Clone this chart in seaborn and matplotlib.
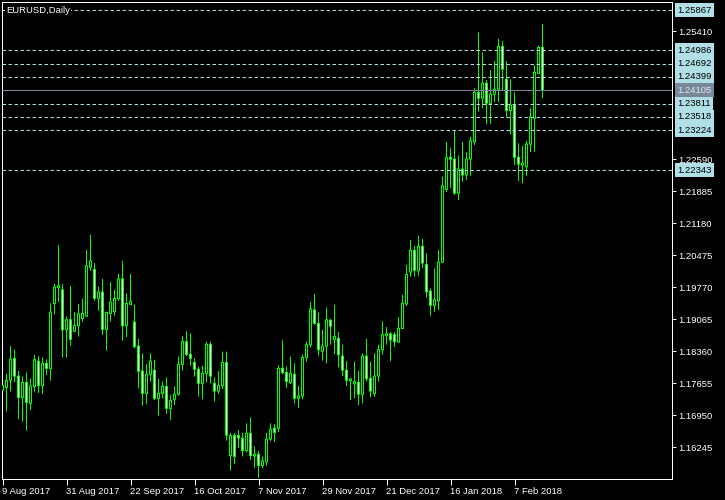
"""EURUSD daily candles in the MetaTrader look (black chart, lime candles)."""

import matplotlib
matplotlib.use("Agg")
import matplotlib.pyplot as plt
import matplotlib.transforms as mtransforms
import numpy as np
import seaborn as sns

# ── data (one candle per trading day, 9 Aug 2017 .. 16 Feb 2018) ──
opens = [
    1.1750, 1.1756, 1.1772, 1.1820, 1.1781, 1.1734, 1.1767, 1.1721, 1.1758, 1.1814,
    1.1760, 1.1809, 1.1798, 1.1941, 1.1976, 1.1971, 1.1883, 1.1905, 1.1880, 1.1892,
    1.1908, 1.1913, 1.2021, 1.2016, 1.1952, 1.1966, 1.1884, 1.1919, 1.1923, 1.1951,
    1.1995, 1.1892, 1.1939, 1.1900, 1.1847, 1.1792, 1.1743, 1.1785, 1.1794, 1.1732,
    1.1743, 1.1758, 1.1710, 1.1730, 1.1741, 1.1807, 1.1857, 1.1829, 1.1811, 1.1796,
    1.1765, 1.1787, 1.1851, 1.1765, 1.1748, 1.1760, 1.1811, 1.1606, 1.1650, 1.1650,
    1.1644, 1.1617, 1.1655, 1.1605, 1.1609, 1.1584, 1.1592, 1.1642, 1.1666, 1.1666,
    1.1798, 1.1789, 1.1767, 1.1785, 1.1732, 1.1737, 1.1822, 1.1850, 1.1927, 1.1897,
    1.1836, 1.1847, 1.1904, 1.1862, 1.1864, 1.1825, 1.1794, 1.1771, 1.1764, 1.1767,
    1.1741, 1.1825, 1.1776, 1.1743, 1.1781, 1.1839, 1.1870, 1.1874, 1.1872, 1.1856,
    1.1886, 1.1940, 1.2010, 1.2058, 1.2013, 1.2067, 1.2027, 1.1968, 1.1937, 1.1947,
    1.2032, 1.2192, 1.2263, 1.2259, 1.2184, 1.2237, 1.2224, 1.2259, 1.2297, 1.2406,
    1.2393, 1.2426, 1.2382, 1.2402, 1.2413, 1.2507, 1.2435, 1.2366, 1.2378, 1.2263,
    1.2246, 1.2242, 1.2292, 1.2349, 1.2448, 1.2505,
]
highs = [
    1.1768, 1.1786, 1.1847, 1.1839, 1.1792, 1.1780, 1.1789, 1.1775, 1.1828, 1.1825,
    1.1822, 1.1818, 1.1941, 1.1984, 1.2070, 1.1984, 1.1913, 1.1980, 1.1922, 1.1940,
    1.1951, 1.2059, 1.2092, 1.2030, 1.1978, 1.1995, 1.1923, 1.1988, 1.1971, 1.2006,
    1.2035, 1.1963, 1.2006, 1.1938, 1.1863, 1.1831, 1.1807, 1.1831, 1.1817, 1.1775,
    1.1769, 1.1778, 1.1739, 1.1758, 1.1824, 1.1869, 1.1880, 1.1875, 1.1820, 1.1802,
    1.1804, 1.1857, 1.1857, 1.1778, 1.1792, 1.1835, 1.1835, 1.1656, 1.1656, 1.1662,
    1.1656, 1.1677, 1.1690, 1.1626, 1.1616, 1.1604, 1.1656, 1.1677, 1.1675, 1.1805,
    1.1860, 1.1802, 1.1824, 1.1809, 1.1759, 1.1828, 1.1857, 1.1944, 1.1962, 1.1921,
    1.1883, 1.1932, 1.1907, 1.1938, 1.1878, 1.1850, 1.1814, 1.1776, 1.1813, 1.1792,
    1.1831, 1.1863, 1.1813, 1.1831, 1.1850, 1.1902, 1.1889, 1.1878, 1.1878, 1.1911,
    1.1960, 1.2026, 1.2081, 1.2068, 1.2090, 1.2083, 1.2052, 1.1974, 1.2018, 1.2059,
    1.2220, 1.2297, 1.2284, 1.2322, 1.2267, 1.2297, 1.2274, 1.2308, 1.2415, 1.2538,
    1.2494, 1.2433, 1.2455, 1.2475, 1.2524, 1.2519, 1.2475, 1.2435, 1.2406, 1.2294,
    1.2288, 1.2299, 1.2371, 1.2466, 1.2509, 1.2557,
]
lows = [
    1.1742, 1.1703, 1.1747, 1.1768, 1.1686, 1.1681, 1.1661, 1.1706, 1.1747, 1.1744,
    1.1742, 1.1783, 1.1771, 1.1917, 1.1945, 1.1822, 1.1822, 1.1848, 1.1878, 1.1868,
    1.1901, 1.1912, 1.2013, 1.1947, 1.1925, 1.1872, 1.1837, 1.1901, 1.1914, 1.1947,
    1.1859, 1.1867, 1.1938, 1.1842, 1.1754, 1.1716, 1.1720, 1.1769, 1.1728, 1.1694,
    1.1732, 1.1698, 1.1684, 1.1717, 1.1738, 1.1793, 1.1825, 1.1804, 1.1780, 1.1736,
    1.1730, 1.1767, 1.1765, 1.1725, 1.1742, 1.1752, 1.1639, 1.1573, 1.1587, 1.1623,
    1.1604, 1.1613, 1.1596, 1.1579, 1.1557, 1.1578, 1.1584, 1.1638, 1.1636, 1.1658,
    1.1785, 1.1755, 1.1763, 1.1721, 1.1711, 1.1730, 1.1813, 1.1844, 1.1895, 1.1826,
    1.1815, 1.1809, 1.1850, 1.1829, 1.1800, 1.1781, 1.1759, 1.1728, 1.1732, 1.1717,
    1.1721, 1.1769, 1.1734, 1.1736, 1.1769, 1.1828, 1.1850, 1.1814, 1.1845, 1.1855,
    1.1885, 1.1935, 1.2000, 1.2000, 1.2002, 1.2020, 1.1954, 1.1914, 1.1923, 1.1927,
    1.2031, 1.2187, 1.2195, 1.2180, 1.2169, 1.2209, 1.2213, 1.2222, 1.2290, 1.2363,
    1.2371, 1.2336, 1.2336, 1.2385, 1.2385, 1.2409, 1.2352, 1.2314, 1.2246, 1.2211,
    1.2206, 1.2222, 1.2274, 1.2275, 1.2446, 1.2393,
]
closes = [
    1.1761, 1.1771, 1.1818, 1.1781, 1.1734, 1.1767, 1.1723, 1.1759, 1.1817, 1.1760,
    1.1809, 1.1798, 1.1922, 1.1977, 1.1980, 1.1883, 1.1905, 1.1862, 1.1892, 1.1918,
    1.1919, 1.2024, 1.2035, 1.1952, 1.1966, 1.1884, 1.1921, 1.1944, 1.1952, 1.1995,
    1.1892, 1.1941, 1.1946, 1.1846, 1.1792, 1.1743, 1.1785, 1.1814, 1.1732, 1.1743,
    1.1759, 1.1710, 1.1727, 1.1741, 1.1807, 1.1857, 1.1829, 1.1820, 1.1796, 1.1765,
    1.1787, 1.1851, 1.1781, 1.1748, 1.1760, 1.1811, 1.1651, 1.1650, 1.1604, 1.1645,
    1.1617, 1.1655, 1.1606, 1.1609, 1.1584, 1.1594, 1.1642, 1.1664, 1.1657, 1.1798,
    1.1789, 1.1769, 1.1787, 1.1732, 1.1737, 1.1822, 1.1850, 1.1929, 1.1897, 1.1839,
    1.1847, 1.1905, 1.1891, 1.1868, 1.1828, 1.1794, 1.1772, 1.1775, 1.1769, 1.1741,
    1.1825, 1.1775, 1.1748, 1.1781, 1.1839, 1.1872, 1.1874, 1.1861, 1.1857, 1.1886,
    1.1941, 1.2005, 1.2058, 1.2014, 1.2067, 1.2030, 1.1967, 1.1937, 1.1949, 1.2032,
    1.2200, 1.2263, 1.2259, 1.2184, 1.2237, 1.2224, 1.2259, 1.2299, 1.2406, 1.2393,
    1.2426, 1.2382, 1.2402, 1.2413, 1.2507, 1.2457, 1.2366, 1.2378, 1.2263, 1.2248,
    1.2250, 1.2292, 1.2352, 1.2450, 1.2505, 1.24105,
]

date_ticks = [0, 16, 32, 48, 64, 80, 96, 112, 128]
date_labels = ["9 Aug 2017", "31 Aug 2017", "22 Sep 2017", "16 Oct 2017", "7 Nov 2017",
               "29 Nov 2017", "21 Dec 2017", "16 Jan 2018", "7 Feb 2018"]
price_ticks = [1.25410, 1.22590, 1.21885, 1.21180, 1.20475, 1.19770,
               1.19065, 1.18360, 1.17655, 1.16950, 1.16245]
levels = [1.25867, 1.24986, 1.24692, 1.24399, 1.23811, 1.23518, 1.23224, 1.22343]
bid = 1.24105
title = "EURUSD,Daily"

GREEN = "#00ff00"
LEVEL_C = "#b0e0e6"
BID_C = "#778899"
FS = 6.8
LW = 0.72          # one pixel at 100 dpi
YLIM = (1.15537, 1.26050)
AX_H = 477.3       # axes height in pixels
PX = (YLIM[1] - YLIM[0]) / AX_H   # one pixel in price units

sns.set_theme(style="dark", rc={"axes.facecolor": "black", "figure.facecolor": "black",
                                "savefig.facecolor": "black", "axes.edgecolor": "white"})
plt.rcParams["font.family"] = ["Liberation Sans", "DejaVu Sans"]

fig = plt.figure(figsize=(7.25, 5.0), dpi=100)
ax = fig.add_axes([2 / 725, (500 - 2 - AX_H) / 500, 670 / 725, AX_H / 500])

o = np.array(opens)
h = np.array(highs)
l = np.array(lows)
c = np.array(closes)
idx = np.arange(len(o))
bear = c < o
lo = np.minimum(o, c)
body = np.abs(c - o)

# wicks, green body frame, then the body fill (bear = white, bull = black)
wicks = ax.vlines(idx, l, h, color=GREEN, lw=LW, zorder=2)
wicks.set_snap(False)
frames = ax.bar(idx, body + PX, bottom=lo - PX / 2, width=0.75, color=GREEN,
                linewidth=0, zorder=3)
inner = body > PX
fills = ax.bar(idx[inner], body[inner] - PX, bottom=lo[inner] + PX / 2, width=0.25,
               color=np.where(bear[inner], "white", "black"),
               linewidth=0, zorder=3.5)
for p in list(frames) + list(fills):
    p.set_snap(False)

ax.set_xlim(-0.125, 167.375)
ax.set_ylim(*YLIM)

# horizontal levels and their price boxes on the right
trans = mtransforms.blended_transform_factory(ax.transAxes, ax.transData)
for lv in levels:
    ax.axhline(lv, color=LEVEL_C, lw=LW, ls=(0, (3.5, 2.5)), zorder=4)
    ax.text(1 + 5.5 / 670, lv, f"{lv:.5f}", transform=trans, ha="left", va="center",
            fontsize=FS, color="black", clip_on=False, zorder=6,
            bbox=dict(boxstyle="square,pad=0.25", fc=LEVEL_C, ec="none"))
ax.axhline(bid, color=BID_C, lw=LW, zorder=4)
ax.text(1 + 5.5 / 670, bid, f"{bid:.5f}", transform=trans, ha="left", va="center",
        fontsize=FS, color="#e4eaf0", clip_on=False, zorder=6,
        bbox=dict(boxstyle="square,pad=0.25", fc=BID_C, ec="none"))

# axes, ticks
for s in ax.spines.values():
    s.set_visible(True)
    s.set_color("white")
    s.set_linewidth(LW)
ax.yaxis.tick_right()
ax.set_yticks(price_ticks)
ax.set_yticklabels([f"{t:.5f}" for t in price_ticks])
ax.set_xticks(date_ticks)
ax.set_xticklabels(date_labels)
for lbl in ax.get_xticklabels():
    lbl.set_horizontalalignment("left")
ax.tick_params(axis="y", right=True, left=False, colors="white", length=3, width=LW,
               pad=1.5, labelsize=FS, direction="out")
ax.tick_params(axis="x", bottom=True, colors="white", length=4, width=LW,
               pad=1.5, labelsize=FS, direction="out")
ax.grid(False)

ax.text(4 / 670, 1 - 4 / AX_H, title, transform=ax.transAxes, ha="left", va="top",
        color="white", fontsize=FS, zorder=7,
        bbox=dict(fc="black", ec="none", pad=0.8))

fig.savefig("out.png", dpi=100, facecolor="black")
plt.close(fig)
